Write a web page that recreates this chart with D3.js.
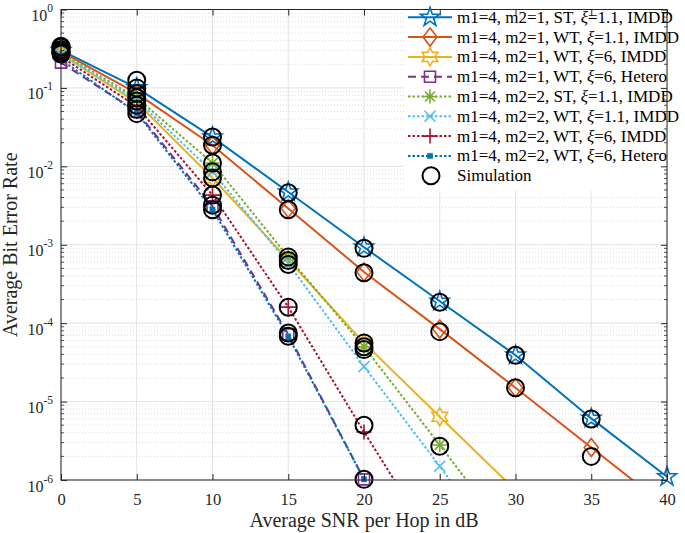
<!DOCTYPE html>
<html><head><meta charset="utf-8">
<script src="https://cdn.jsdelivr.net/npm/d3@7"></script>
<style>
html,body{margin:0;padding:0;background:#fff;}
svg{display:block;font-family:"Liberation Serif","Times New Roman",serif;}
</style></head>
<body>
<svg id="c" width="685" height="533"></svg>
<script>
// ---------------- DATA ----------------
const snr = [0, 5, 10, 15, 20, 25, 30, 35, 40];
const s1 = [0.30, 0.100, 0.0236, 4.7e-3, 9.3e-4, 1.9e-4, 3.9e-5, 6.1e-6, 1.1e-6];      // m1=4,m2=1,ST,1.1,IMDD
const s2 = [0.29, 0.085, 0.0186, 2.9e-3, 4.5e-4, 8.4e-5, 1.5e-5, 2.6e-6, 4.5e-7];      // m1=4,m2=1,WT,1.1,IMDD
const s3 = [0.27, 0.065, 0.0071, 6.4e-4, 5.6e-5, 6.4e-6, 7.4e-7];                       // m1=4,m2=1,WT,6,IMDD
const s4 = [0.21, 0.050, 0.0031, 7.2e-5, 1.02e-6, 1.0e-8];                             // m1=4,m2=1,WT,6,Hetero
const s5 = [0.28, 0.075, 0.0110, 7.0e-4, 5.0e-5, 2.8e-6, 1.5e-7];                      // m1=4,m2=2,ST,1.1,IMDD
const s6 = [0.27, 0.070, 0.0085, 5.8e-4, 2.8e-5, 1.5e-6, 7.0e-8];                      // m1=4,m2=2,WT,1.1,IMDD
const s7 = [0.25, 0.058, 0.0043, 1.6e-4, 4.1e-6, 1.2e-7];                              // m1=4,m2=2,WT,6,IMDD
const s8 = [0.23, 0.048, 0.0028, 6.8e-5, 1.02e-6, 1.0e-8];                             // m1=4,m2=2,WT,6,Hetero
const seriesValues = [s1, s2, s3, s4, s5, s6, s7, s8];
const seriesLabels = [
  ["m1=4, m2=1, ST, ", "=1.1, IMDD"],
  ["m1=4, m2=1, WT, ", "=1.1, IMDD"],
  ["m1=4, m2=1, WT, ", "=6, IMDD"],
  ["m1=4, m2=1, WT, ", "=6, Hetero"],
  ["m1=4, m2=2, ST, ", "=1.1, IMDD"],
  ["m1=4, m2=2, WT, ", "=1.1, IMDD"],
  ["m1=4, m2=2, WT, ", "=6, IMDD"],
  ["m1=4, m2=2, WT, ", "=6, Hetero"]
];
const seriesColors = ["#0072BD","#D95319","#EDB120","#7E2F8E","#77AC30","#4DBEEE","#A2142F","#0072BD"];
const seriesMarkers = ["pentagram","diamond","hexagram","square","asterisk","x","plus","point"];
const seriesDash = ["none","none","none","8,5","2.5,2","2.5,2","2.5,2","2.5,2"];
// simulation points
const simX = [0,0,0,0,0,0,0,0, 5,5,5,5,5,5,5,5, 10,10,10,10,10,10,10,10,
              15,15,15,15,15,15,15,15, 20,20,20,20,20,20,20, 25,25,25, 30,30, 35,35];
const simY = [0.34,0.33,0.31,0.30,0.29,0.28,0.28,0.27,
              0.125,0.10,0.085,0.075,0.068,0.060,0.053,0.047,
              0.0236,0.0186,0.011,0.0085,0.0071,0.0043,0.0032,0.0028,
              4.6e-3,2.8e-3,7.0e-4,6.3e-4,5.6e-4,1.6e-4,7.5e-5,6.8e-5,
              9.0e-4,4.4e-4,5.6e-5,5.0e-5,4.6e-5,5.0e-6,1.02e-6,
              1.85e-4,7.8e-5,2.7e-6,
              3.9e-5,1.5e-5,
              6.0e-6,2.0e-6];
const xTicks = [0,5,10,15,20,25,30,35,40];
const yTicks = [1e-6,1e-5,1e-4,1e-3,1e-2,1e-1,1];
const yTickExp = ["-6","-5","-4","-3","-2","-1","0"];
const xLabel = "Average SNR per Hop in dB";
const yLabel = "Average Bit Error Rate";

// ---------------- LAYOUT ----------------
const L = 61, R = 667, T = 9.5, B = 480;
const svg = d3.select("#c");
const x = d3.scaleLinear().domain([0,40]).range([L,R]);
const y = d3.scaleLog().domain([1e-6,1]).range([B,T]);
const axisCol = "#262626";

svg.append("defs").append("clipPath").attr("id","clip")
  .append("rect").attr("x",L).attr("y",T).attr("width",R-L).attr("height",B-T);

// minor values
const minorY = [];
for (let e=-6; e<0; e++) for (let m=2; m<=9; m++) minorY.push(m*Math.pow(10,e));

// grid
const grid = svg.append("g");
grid.selectAll(".mi").data(minorY).join("line")
  .attr("x1",L).attr("x2",R).attr("y1",d=>y(d)).attr("y2",d=>y(d))
  .attr("stroke","#d4d4d4").attr("stroke-width",0.8).attr("stroke-dasharray","1,2");
grid.selectAll(".mx").data(xTicks).join("line")
  .attr("x1",d=>x(d)).attr("x2",d=>x(d)).attr("y1",T).attr("y2",B)
  .attr("stroke","#e3e3e3").attr("stroke-width",1);
grid.selectAll(".my").data(yTicks).join("line")
  .attr("x1",L).attr("x2",R).attr("y1",d=>y(d)).attr("y2",d=>y(d))
  .attr("stroke","#e3e3e3").attr("stroke-width",1);

// marker path generator
function star(n, ro, ri){
  const p=[]; for(let i=0;i<2*n;i++){const a=-Math.PI/2+i*Math.PI/n; const r=i%2?ri:ro; p.push([r*Math.cos(a),r*Math.sin(a)]);}
  return "M"+p.map(q=>q[0].toFixed(2)+","+q[1].toFixed(2)).join("L")+"Z";
}
function markerPath(type){
  switch(type){
    case "pentagram": return star(5,10,3.9);
    case "hexagram": return star(6,9,5.2);
    case "diamond": return "M0,-9L7,0L0,9L-7,0Z";
    case "square": return "M-5.5,-5.5H5.5V5.5H-5.5Z";
    case "asterisk": return "M-7,0H7M0,-7V7M-5,-5L5,5M-5,5L5,-5";
    case "x": return "M-5.5,-5.5L5.5,5.5M-5.5,5.5L5.5,-5.5";
    case "plus": return "M-7.5,0H7.5M0,-7.5V7.5";
    case "point": return "M-2.6,-2.6H2.6V2.6H-2.6Z";
  }
}

// legend background (covers grid)
const legX0 = 404, legY0 = 5, legRow = 19.8, legFirst = 17.3;
svg.append("rect").attr("x",legX0).attr("y",legY0).attr("width",R-legX0).attr("height",186).attr("fill","#fff");

// lines
const line = d3.line().x(d=>x(d[0])).y(d=>y(d[1]));
const gLines = svg.append("g").attr("clip-path","url(#clip)");
seriesValues.forEach((vals,i)=>{
  const pts = vals.map((v,k)=>[snr[k],v]);
  gLines.append("path").attr("d",line(pts)).attr("fill","none")
    .attr("stroke",seriesColors[i]).attr("stroke-width",2)
    .attr("stroke-dasharray",seriesDash[i]==="none"?null:seriesDash[i]);
});
// markers (only in-range points)
seriesValues.forEach((vals,i)=>{
  const pts = vals.map((v,k)=>[snr[k],v]).filter(d=>d[1]>=1e-6*0.99 && d[1]<=1);
  svg.append("g").selectAll("path").data(pts).join("path")
    .attr("transform",d=>`translate(${x(d[0])},${y(d[1])})`)
    .attr("d",markerPath(seriesMarkers[i]))
    .attr("fill",seriesMarkers[i]==="point"?seriesColors[i]:"none")
    .attr("stroke",seriesColors[i]).attr("stroke-width",seriesMarkers[i]==="point"?0.5:1.6)
    .attr("stroke-linejoin","miter");
});
// simulation circles
svg.append("g").selectAll("circle").data(simX.map((v,k)=>[v,simY[k]])).join("circle")
  .attr("cx",d=>x(d[0])).attr("cy",d=>y(d[1])).attr("r",8.5)
  .attr("fill","none").attr("stroke","#000").attr("stroke-width",2);

// axes
const gx = svg.append("g").attr("transform",`translate(0,${B})`)
  .call(d3.axisBottom(x).tickValues(xTicks).tickSize(-6).tickPadding(13).tickFormat(d3.format("d")));
gx.select(".domain").remove();
gx.selectAll(".tick line").attr("stroke",axisCol);
gx.selectAll("text").attr("font-size",16.5).attr("fill","#262626").attr("font-family","Liberation Serif, serif");
const gxt = svg.append("g").attr("transform",`translate(0,${T})`)
  .call(d3.axisTop(x).tickValues(xTicks).tickSize(-6).tickFormat(""));
gxt.select(".domain").remove();
gxt.selectAll(".tick line").attr("stroke",axisCol);

const gy = svg.append("g").attr("transform",`translate(${L},0)`)
  .call(d3.axisLeft(y).tickValues(yTicks).tickSize(-6).tickFormat(""));
gy.select(".domain").remove();
gy.selectAll(".tick line").attr("stroke",axisCol);
gy.selectAll(".tick").each(function(d,i){
  const t = d3.select(this).append("text").attr("x",-8).attr("y",11)
    .attr("text-anchor","end").attr("fill","#262626").attr("font-size",16)
    .attr("font-family","Liberation Serif, serif");
  t.append("tspan").text("10");
  t.append("tspan").attr("dy",-9).attr("font-size",11.5).text(yTickExp[yTicks.indexOf(d)]);
});
const gyr = svg.append("g").attr("transform",`translate(${R},0)`)
  .call(d3.axisRight(y).tickValues(yTicks).tickSize(-6).tickFormat(""));
gyr.select(".domain").remove();
gyr.selectAll(".tick line").attr("stroke",axisCol);
// minor ticks
const mt = svg.append("g").attr("stroke",axisCol).attr("stroke-width",0.8);
mt.selectAll(".l").data(minorY).join("line").attr("x1",L).attr("x2",L+3).attr("y1",d=>y(d)).attr("y2",d=>y(d));
mt.selectAll(".r").data(minorY).join("line").attr("x1",R).attr("x2",R-3).attr("y1",d=>y(d)).attr("y2",d=>y(d));
// box
svg.append("rect").attr("x",L).attr("y",T).attr("width",R-L).attr("height",B-T)
  .attr("fill","none").attr("stroke",axisCol).attr("stroke-width",1);

// axis labels
svg.append("text").attr("x",(L+R)/2).attr("y",527).attr("text-anchor","middle")
  .attr("font-size",20).attr("fill","#262626").text(xLabel);
svg.append("text").attr("transform",`translate(17,${(T+B)/2}) rotate(-90)`).attr("text-anchor","middle")
  .attr("font-size",20).attr("fill","#262626").text(yLabel);

// legend content
const lg = svg.append("g");
seriesLabels.forEach((lab,i)=>{
  const yy = legFirst + i*legRow;
  lg.append("line").attr("x1",408).attr("x2",452).attr("y1",yy).attr("y2",yy)
    .attr("stroke",seriesColors[i]).attr("stroke-width",2)
    .attr("stroke-dasharray",seriesDash[i]==="none"?null:seriesDash[i]);
  lg.append("path").attr("transform",`translate(430,${yy})`).attr("d",markerPath(seriesMarkers[i]))
    .attr("fill",seriesMarkers[i]==="point"?seriesColors[i]:"none")
    .attr("stroke",seriesColors[i]).attr("stroke-width",seriesMarkers[i]==="point"?0.5:1.6);
  const t = lg.append("text").attr("x",457).attr("y",yy+5.5).attr("font-size",17).attr("fill","#000");
  t.append("tspan").text(lab[0]);
  t.append("tspan").attr("font-style","italic").text("ξ");
  t.append("tspan").text(lab[1]);
});
const ys = legFirst + 8*legRow;
lg.append("circle").attr("cx",431).attr("cy",ys).attr("r",8.5).attr("fill","none").attr("stroke","#000").attr("stroke-width",2);
lg.append("text").attr("x",457).attr("y",ys+5.5).attr("font-size",17).attr("fill","#000").text("Simulation");
</script>
</body></html>
